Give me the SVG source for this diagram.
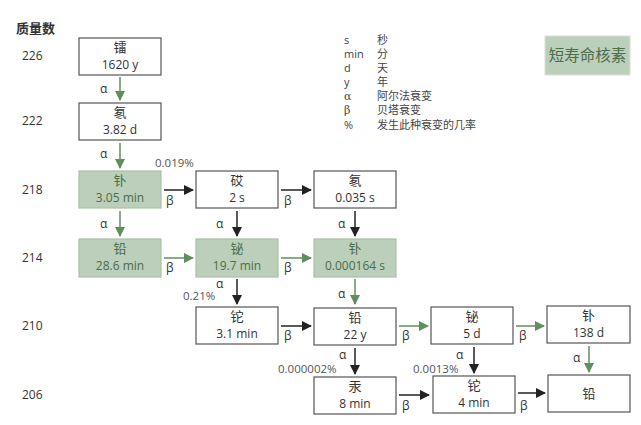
<svg xmlns="http://www.w3.org/2000/svg" width="641" height="425" viewBox="0 0 641 425">
<style>
text{font-family:"Open Sans","Noto Sans CJK SC",sans-serif;}
.b rect{fill:#fff;stroke:#555;stroke-width:1.2}
.g rect{fill:#bccfba;stroke:#a9c1a6;stroke-width:1.2}
.b text{fill:#333;font-size:12px;text-anchor:middle}
.g text{fill:#4b6d49;font-size:12px;text-anchor:middle}
.n{font-size:13px!important}
.lab{fill:#333;font-size:12px}
.ax{font-family:"DejaVu Serif",serif!important;fill:#333;font-size:12px}
.pc{fill:#555;font-size:11.5px}
.k{stroke:#222;stroke-width:1.5;fill:none;marker-end:url(#mk)}
.gr{stroke:#5f8f5c;stroke-width:1.5;fill:none;marker-end:url(#mg)}
.lg{fill:#444;font-size:11px}
</style>
<defs>
<marker id="mk" markerWidth="10" markerHeight="10" refX="9" refY="5" orient="auto" markerUnits="userSpaceOnUse"><path d="M0,0L10,5L0,10z" fill="#222"/></marker>
<marker id="mg" markerWidth="10" markerHeight="10" refX="9" refY="5" orient="auto" markerUnits="userSpaceOnUse"><path d="M0,0L10,5L0,10z" fill="#5f8f5c"/></marker>
</defs>
<text x="16" y="33" style="font-size:13px;font-weight:bold;fill:#333">质量数</text>
<g class="lab"><text x="22" y="60">226</text><text x="22" y="125">222</text><text x="22" y="194">218</text><text x="22" y="262">214</text><text x="22" y="330">210</text><text x="22" y="399">206</text></g>
<g id="legend">
<g class="lg"><text x="344" y="44">s</text><text x="344" y="58">min</text><text x="344" y="72">d</text><text x="344" y="86">y</text><text x="344" y="100" style="font-family:'DejaVu Serif',serif">α</text><text x="344" y="114" style="font-family:'DejaVu Serif',serif">β</text><text x="344" y="129">%</text></g>
<g class="lg"><text x="377" y="44">秒</text><text x="377" y="58">分</text><text x="377" y="72">天</text><text x="377" y="86">年</text><text x="377" y="100">阿尔法衰变</text><text x="377" y="114">贝塔衰变</text><text x="377" y="129">发生此种衰变的几率</text></g>
<rect x="545" y="36" width="85" height="39" fill="#bccfba" stroke="#d5e2d3"/>
<text x="587.5" y="61" text-anchor="middle" style="font-size:15.5px;fill:#4b6d49">短寿命核素</text>
</g>
<g id="n1" class="b"><rect x="79" y="38" width="82" height="37"/><text class="n" x="120" y="52">镭</text><text x="120" y="69">1620 y</text></g>
<g id="n2" class="b"><rect x="79" y="103" width="82" height="37"/><text class="n" x="120" y="117">氡</text><text x="120" y="134">3.82 d</text></g>
<g id="n3" class="g"><rect x="79" y="171" width="82" height="37"/><text class="n" x="120" y="185">钋</text><text x="120" y="202">3.05 min</text></g>
<g id="n4" class="b"><rect x="196" y="171" width="82" height="37"/><text class="n" x="237" y="185">砹</text><text x="237" y="202">2 s</text></g>
<g id="n5" class="b"><rect x="314" y="171" width="82" height="37"/><text class="n" x="355" y="185">氡</text><text x="355" y="202">0.035 s</text></g>
<g id="n6" class="g"><rect x="79" y="239" width="82" height="38"/><text class="n" x="120" y="253">铅</text><text x="120" y="270">28.6 min</text></g>
<g id="n7" class="g"><rect x="196" y="239" width="82" height="38"/><text class="n" x="237" y="253">铋</text><text x="237" y="270">19.7 min</text></g>
<g id="n8" class="g"><rect x="314" y="239" width="82" height="38"/><text class="n" x="355" y="253">钋</text><text x="355" y="270">0.000164 s</text></g>
<g id="n9" class="b"><rect x="196" y="307" width="82" height="37"/><text class="n" x="237" y="321">铊</text><text x="237" y="338">3.1 min</text></g>
<g id="n10" class="b"><rect x="314" y="308" width="82" height="37"/><text class="n" x="355" y="322">铅</text><text x="355" y="339">22 y</text></g>
<g id="n11" class="b"><rect x="431" y="307" width="82" height="37"/><text class="n" x="472" y="321">铋</text><text x="472" y="338">5 d</text></g>
<g id="n12" class="b"><rect x="547" y="306" width="83" height="37"/><text class="n" x="588.5" y="320">钋</text><text x="588.5" y="337">138 d</text></g>
<g id="n13" class="b"><rect x="314" y="377" width="82" height="37"/><text class="n" x="355" y="391">汞</text><text x="355" y="408">8 min</text></g>
<g id="n14" class="b"><rect x="433" y="376" width="82" height="37"/><text class="n" x="474" y="390">铊</text><text x="474" y="407">4 min</text></g>
<g id="n15" class="b"><rect x="548" y="375" width="82" height="37"/><text class="n" x="589" y="398">铅</text></g>
<g id="connectors">
<path class="gr" d="M120,77V100"/><path class="gr" d="M120,143V168"/><path class="gr" d="M120,211V236"/>
<path class="k" d="M237,211V236"/><path class="k" d="M355,211V236"/>
<path class="k" d="M237,279V304"/><path class="gr" d="M355,279V304"/>
<path class="k" d="M355,348V374"/><path class="k" d="M474,347V373"/><path class="gr" d="M589,346V372"/>
<path class="k" d="M164,190H193"/><path class="k" d="M281,190H311"/>
<path class="gr" d="M164,258H193"/><path class="gr" d="M281,258H311"/>
<path class="k" d="M281,326H311"/><path class="gr" d="M399,326H428"/><path class="gr" d="M516,326H544"/>
<path class="k" d="M399,395H429"/><path class="k" d="M518,393H545"/>
<g class="ax">
<text x="100" y="93">α</text><text x="100" y="158">α</text><text x="100" y="228">α</text><text x="216" y="228">α</text><text x="338" y="228">α</text><text x="216" y="288">α</text><text x="338" y="298">α</text><text x="339" y="359">α</text><text x="456" y="359">α</text><text x="573" y="362">α</text>
<text x="166" y="205">β</text><text x="284" y="205">β</text><text x="166" y="272">β</text><text x="284" y="272">β</text><text x="284" y="340">β</text><text x="402" y="340">β</text><text x="519" y="340">β</text><text x="402" y="410">β</text><text x="520" y="410">β</text>
</g>
<g class="pc"><text x="155" y="167">0.019%</text><text x="183" y="300">0.21%</text><text x="278" y="373">0.000002%</text><text x="413" y="373">0.0013%</text></g>
</g>
</svg>
